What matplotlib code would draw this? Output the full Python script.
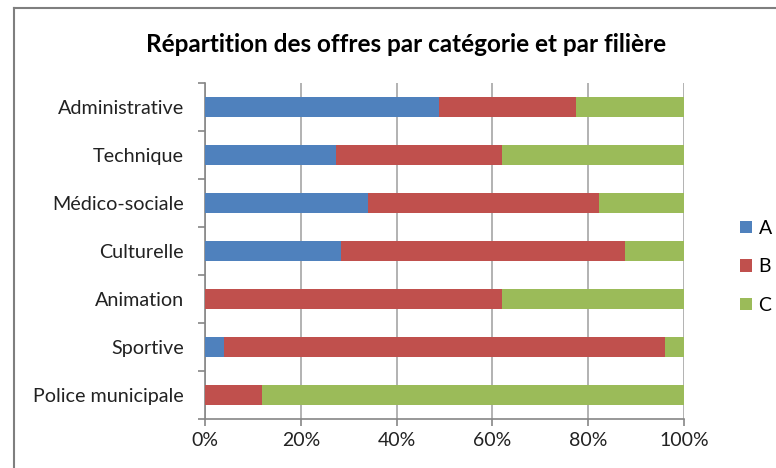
import matplotlib
matplotlib.use("Agg")
import matplotlib.pyplot as plt
import numpy as np
from matplotlib.lines import Line2D

# données (parts en %)
categories = ["Administrative", "Technique", "Médico-sociale", "Culturelle",
              "Animation", "Sportive", "Police municipale"]
part_a = [48.9, 27.4, 34.0, 28.4, 0.0, 4.0, 0.0]
part_b = [28.5, 34.6, 48.3, 59.3, 62.0, 92.0, 11.8]
part_c = [22.6, 38.0, 17.7, 12.3, 38.0, 4.0, 88.2]
series_names = ["A", "B", "C"]
colors = ["#4f81bd", "#c0504d", "#9bbb59"]

plt.rcParams['font.family'] = ['Lato', 'DejaVu Sans']

fig = plt.figure(figsize=(7.76, 4.68), dpi=100)
ax = fig.add_axes([205 / 776, 1 - 419 / 468, 479 / 776, 336 / 468])

# cadre du graphique (coupé à droite et en bas)
fig.add_artist(Line2D([14 / 776, 1], [1 - 8 / 468] * 2, color="#7f7f7f", lw=1.5))
fig.add_artist(Line2D([14 / 776] * 2, [0, 1 - 8 / 468], color="#7f7f7f", lw=1.5))

y = np.arange(len(categories))
left = np.zeros(len(categories))
for vals, name, col in zip([part_a, part_b, part_c], series_names, colors):
    ax.barh(y, vals, left=left, height=0.4, color=col, label=name, zorder=3)
    left += np.array(vals)

ax.set_xlim(0, 100)
ax.set_ylim(len(categories) - 0.5, -0.5)
ax.set_xticks(range(0, 101, 20))
ax.set_xticklabels([f"{v}%" for v in range(0, 101, 20)])
ax.set_yticks(y)
ax.set_yticklabels(categories)
ax.set_yticks(np.arange(-0.5, len(categories)), minor=True)
ax.tick_params(axis="y", which="major", length=0, pad=15, labelsize=14.2)
ax.tick_params(axis="y", which="minor", length=5, color="#868686", width=1.2)
ax.tick_params(axis="x", length=5, color="#868686", width=1.2, labelsize=14, pad=4)
for lab in ax.get_xticklabels() + ax.get_yticklabels():
    lab.set_color("#222222")

ax.grid(axis="x", color="#a5a5a5", lw=1.2, zorder=0)
ax.set_axisbelow(True)
for s in ["top", "right"]:
    ax.spines[s].set_visible(False)
for s in ["left", "bottom"]:
    ax.spines[s].set_color("#868686")
    ax.spines[s].set_linewidth(1.2)

fig.text(406 / 776, 1 - 44 / 468, "Répartition des offres par catégorie et par filière",
         ha="center", va="center", fontsize=17.5, fontweight="bold")

fig.legend(loc="center left", bbox_to_anchor=(740 / 776, 1 - 267 / 468), frameon=False,
           fontsize=14, handlelength=0.6, handleheight=0.6, handletextpad=0.35,
           labelspacing=1.1, borderpad=0, borderaxespad=0)

fig.savefig("out.png", dpi=100)
